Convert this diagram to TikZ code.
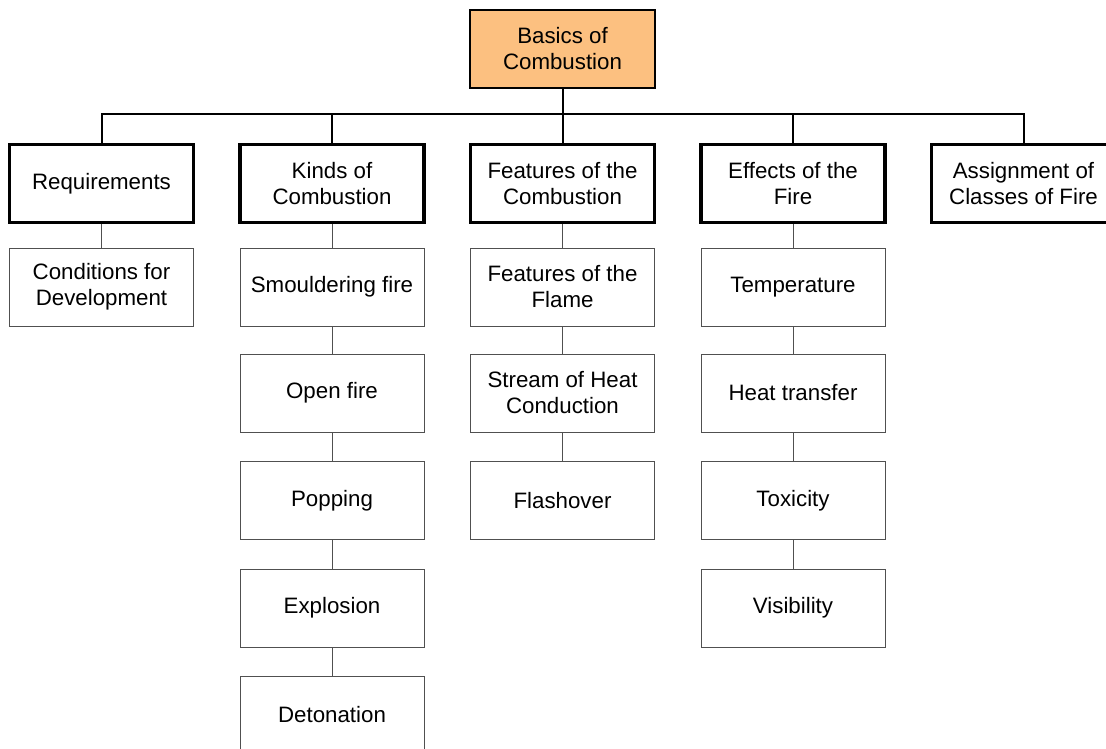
\documentclass[tikz,border=0pt]{standalone}
\usepackage{fontspec}
\setmainfont{Liberation Sans}
\definecolor{rootfill}{RGB}{252,192,128}
\definecolor{subline}{RGB}{80,80,80}
\begin{document}
\begin{tikzpicture}[x=1pt,y=-1pt,
  every node/.style={font=\fontsize{22.3pt}{26pt}\selectfont, align=center, inner sep=0pt},
  rootbox/.style={draw=black, line width=2pt, fill=rootfill, minimum width=185pt, minimum height=78pt},
  mainbox/.style={draw=black, line width=3.5pt, fill=white, minimum width=184pt, minimum height=77.5pt},
  subbox/.style={draw=subline, line width=1pt, fill=white, minimum width=184pt, minimum height=78pt},
  bus/.style={draw=black, line width=2pt},
  link/.style={draw=subline, line width=1pt}]
\useasboundingbox (0,0) rectangle (1106,749);
\clip (0,0) rectangle (1106,749);
\fill[white] (0,0) rectangle (1106,749);

% root
\node[rootbox] (root) at (562.5,49) {Basics of\\Combustion};
\coordinate (hub) at (562.5,114);

% first level
\node[mainbox] (req) at (101.5,183.5) {Requirements};
\node[mainbox] (kind) at (332,183.5) {Kinds of\\Combustion};
\node[mainbox] (feat) at (562.5,183.5) {Features of the\\Combustion};
\node[mainbox] (eff) at (793,183.5) {Effects of the\\Fire};
\node[mainbox] (cls) at (1023.5,183.5) {Assignment of\\Classes of Fire};

% second level
\node[subbox] (req1) at (101.5,287) {Conditions for\\Development};

\node[subbox] (kind1) at (332,287) {Smouldering fire};
\node[subbox] (kind2) at (332,393) {Open fire};
\node[subbox] (kind3) at (332,500.5) {Popping};
\node[subbox] (kind4) at (332,608) {Explosion};
\node[subbox] (kind5) at (332,715) {Detonation};

\node[subbox] (feat1) at (562.5,287) {Features of the\\Flame};
\node[subbox] (feat2) at (562.5,393) {Stream of Heat\\Conduction};
\node[subbox] (feat3) at (562.5,500.5) {Flashover};

\node[subbox] (eff1) at (793,287) {Temperature};
\node[subbox] (eff2) at (793,393) {Heat transfer};
\node[subbox] (eff3) at (793,500.5) {Toxicity};
\node[subbox] (eff4) at (793,608) {Visibility};

% bus from the root to the first level
\draw[bus] (root.south) -- (hub);
\foreach \n in {req,kind,feat,eff,cls}
  \draw[bus] (\n.north) |- (hub);

% chains below the first level
\draw[link] (req.south) -- (req1.north);
\draw[link] (kind.south) -- (kind1.north);
\draw[link] (kind1.south) -- (kind2.north);
\draw[link] (kind2.south) -- (kind3.north);
\draw[link] (kind3.south) -- (kind4.north);
\draw[link] (kind4.south) -- (kind5.north);
\draw[link] (feat.south) -- (feat1.north);
\draw[link] (feat1.south) -- (feat2.north);
\draw[link] (feat2.south) -- (feat3.north);
\draw[link] (eff.south) -- (eff1.north);
\draw[link] (eff1.south) -- (eff2.north);
\draw[link] (eff2.south) -- (eff3.north);
\draw[link] (eff3.south) -- (eff4.north);
\end{tikzpicture}
\end{document}
